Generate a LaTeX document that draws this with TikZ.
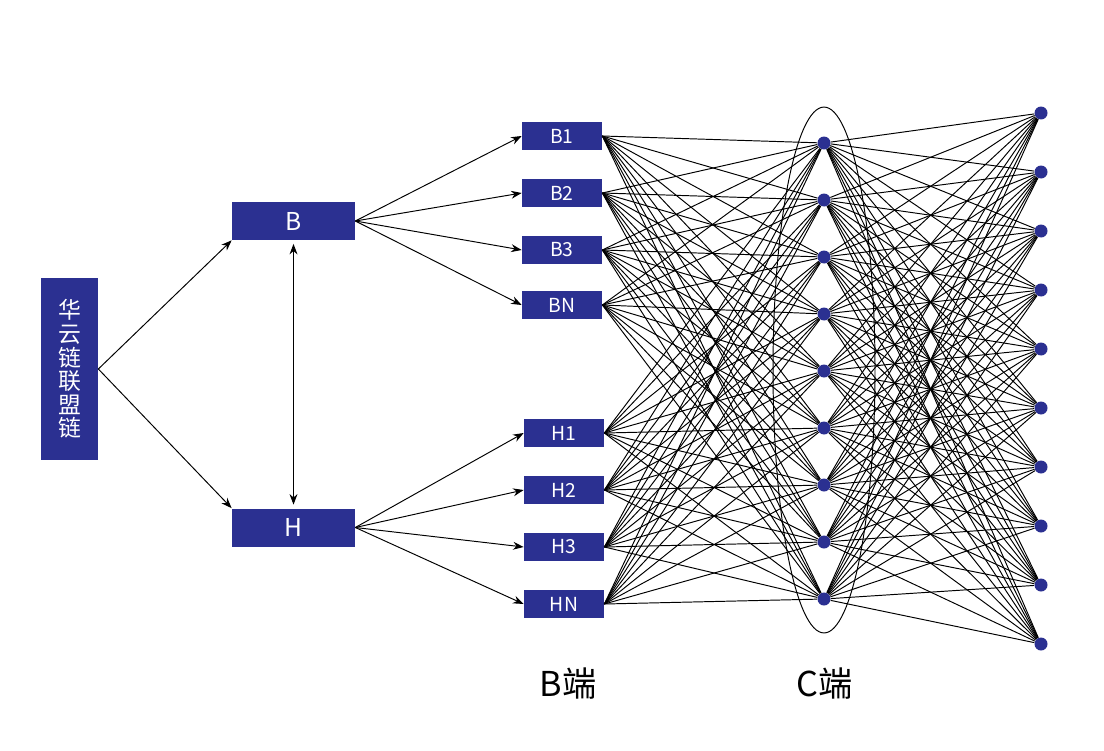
\documentclass[tikz,border=0pt]{standalone}
\usepackage{fontspec}
\setmainfont{Noto Sans CJK SC}
\usetikzlibrary{arrows.meta}
\definecolor{navy}{RGB}{43,48,145}
\begin{document}
\begin{tikzpicture}[x=0.02cm,y=-0.02cm,
  box/.style={fill=navy,text=white,inner sep=0pt},
  small/.style={box,minimum width=1.6cm,minimum height=0.56cm,font=\fontsize{11}{13}\selectfont},
  big/.style={box,minimum width=2.46cm,minimum height=0.76cm,font=\fontsize{14}{16}\selectfont},
  dot/.style={circle,fill=navy,inner sep=0pt,minimum size=0.26cm},
  arr/.style={-{Stealth[length=6pt,width=4.5pt]},line width=0.55pt},
  web/.style={line width=0.55pt}]
\useasboundingbox (0,0) rectangle (1104,750);

\node[box,minimum width=1.14cm,minimum height=3.64cm,align=center,font=\fontsize{13}{13.4}\selectfont](alliance) at (69.5,369) {华\\云\\链\\联\\盟\\链};
\node[big](B) at (293.5,221) {B};
\node[big](H) at (293.5,527.5) {H};

\draw[arr] (alliance.east) -- (B.south west);
\draw[arr] (alliance.east) -- (H.north west);
\draw[line width=0.55pt,{Stealth[length=6pt,width=4.5pt]}-{Stealth[length=6pt,width=4.5pt]},shorten <=2pt,shorten >=2pt] (B.south) -- (H.north);

\foreach \n/\t/\y in {b1/B1/136,b2/B2/193,b3/B3/250,bn/BN/305}{
  \node[small](\n) at (562,\y) {\t};
  \draw[arr] (B.east) -- (\n.west);
}
\foreach \n/\t/\y in {h1/H1/433,h2/H2/490,h3/H3/547,hn/HN/604}{
  \node[small](\n) at (564,\y) {\t};
  \draw[arr] (H.east) -- (\n.west);
}

\foreach \i in {1,...,9}
  \node[dot](c\i) at (824,{143+57*(\i-1)}) {};
\foreach \j in {1,...,10}
  \node[dot](r\j) at (1041,{113+59*(\j-1)}) {};

\foreach \n in {b1,b2,b3,bn,h1,h2,h3,hn}
  \foreach \i in {1,...,9}
    \draw[web] (\n.east) -- (c\i);
\foreach \i in {1,...,9}
  \foreach \j in {1,...,10}
    \draw[web] (c\i) -- (r\j);

\draw[line width=0.55pt] (824,370) ellipse [x radius=1.02cm,y radius=5.26cm];

\node[font=\fontsize{19.5}{22}\selectfont](bside) at (568,684) {B端};
\node[font=\fontsize{19.5}{22}\selectfont](cside) at (825,684) {C端};
\end{tikzpicture}
\end{document}
